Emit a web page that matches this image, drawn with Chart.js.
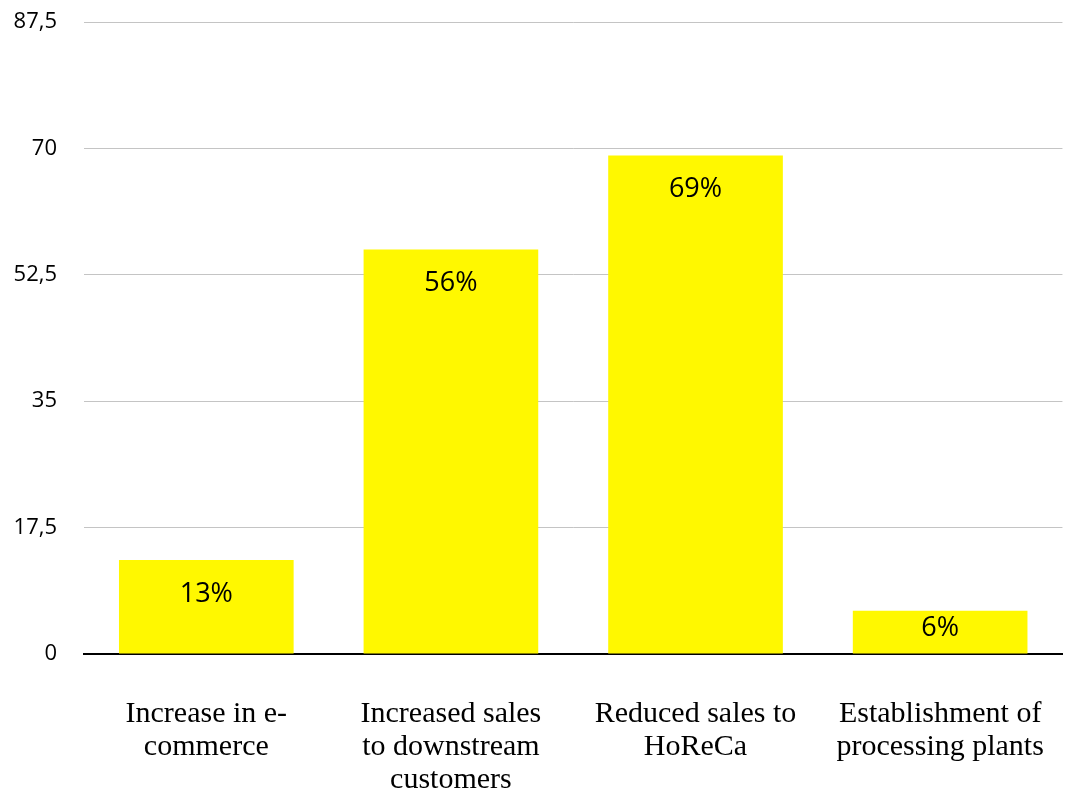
<!DOCTYPE html>
<html>
<head>
<meta charset="utf-8">
<script src="https://cdn.jsdelivr.net/npm/chart.js@4/dist/chart.umd.min.js"></script>
<style>
    html, body { margin: 0; padding: 0; background: #ffffff; }
    #grafico { width: 1082px; height: 794px; }
</style>
</head>
<body>
<div id="grafico"><canvas id="myChart"></canvas></div>
<script>
// dados
const categorias = [
    ['Increase in e-', 'commerce'],
    ['Increased sales', 'to downstream', 'customers'],
    ['Reduced sales to', 'HoReCa'],
    ['Establishment of', 'processing plants']
];
const valores = [13, 56, 69, 6];
const rotulos = ['13%', '56%', '69%', '6%'];
const ticksY = [0, 17.5, 35, 52.5, 70, 87.5];

// escreve o rotulo dentro da barra, perto do topo
const rotuloBarras = {
    id: 'rotuloBarras',
    afterDatasetsDraw(chart) {
        const ctx = chart.ctx;
        const meta = chart.getDatasetMeta(0);
        ctx.save();
        ctx.fillStyle = '#000000';
        ctx.font = '27px "Open Sans"';
        ctx.textAlign = 'center';
        ctx.textBaseline = 'middle';
        meta.data.forEach((barra, i) => {
            let altura = barra.base - barra.y;
            let desloc = Math.min(34, Math.max(18, altura / 2 - 4));
            ctx.fillText(rotulos[i], barra.x, barra.y + desloc);
        });
        ctx.restore();
    }
};

const data = {
    labels: categorias,
    datasets: [{
        data: valores,
        backgroundColor: '#FFF800',
        borderWidth: 0,
        categoryPercentage: 1,
        barPercentage: 0.714
    }]
};

const config = {
    type: 'bar',
    data: data,
    plugins: [rotuloBarras],
    options: {
        responsive: true,
        maintainAspectRatio: false,
        animation: false,
        layout: { padding: { top: 22, right: 17, left: 0, bottom: 0 } },
        plugins: {
            legend: { display: false },
            tooltip: { enabled: false }
        },
        scales: {
            x: {
                grid: { display: false },
                border: { display: true, color: '#000000', width: 2 },
                ticks: {
                    color: '#000000',
                    padding: 36,
                    maxRotation: 0,
                    autoSkip: false,
                    font: { family: '"Liberation Serif"', size: 30, lineHeight: 1.1 }
                },
                afterFit: (s) => { s.height = 140; }
            },
            y: {
                min: 0,
                max: 87.5,
                afterBuildTicks: (s) => { s.ticks = ticksY.map(v => ({ value: v })); },
                grid: {
                    drawTicks: false,
                    color: (c) => c.tick && c.tick.value === 0 ? 'rgba(0,0,0,0)' : '#c4c4c4',
                    lineWidth: 1
                },
                border: { display: false },
                ticks: {
                    color: '#000000',
                    padding: 27,
                    font: { family: '"Open Sans"', size: 22 },
                    callback: (v) => String(v).replace('.', ',')
                },
                afterFit: (s) => {
                    s.width = 84;
                    s.paddingTop = 0;
                    s.paddingBottom = 0;
                }
            }
        }
    }
};

window.onload = () => {
    new Chart(document.getElementById('myChart'), config);
};
</script>
</body>
</html>
